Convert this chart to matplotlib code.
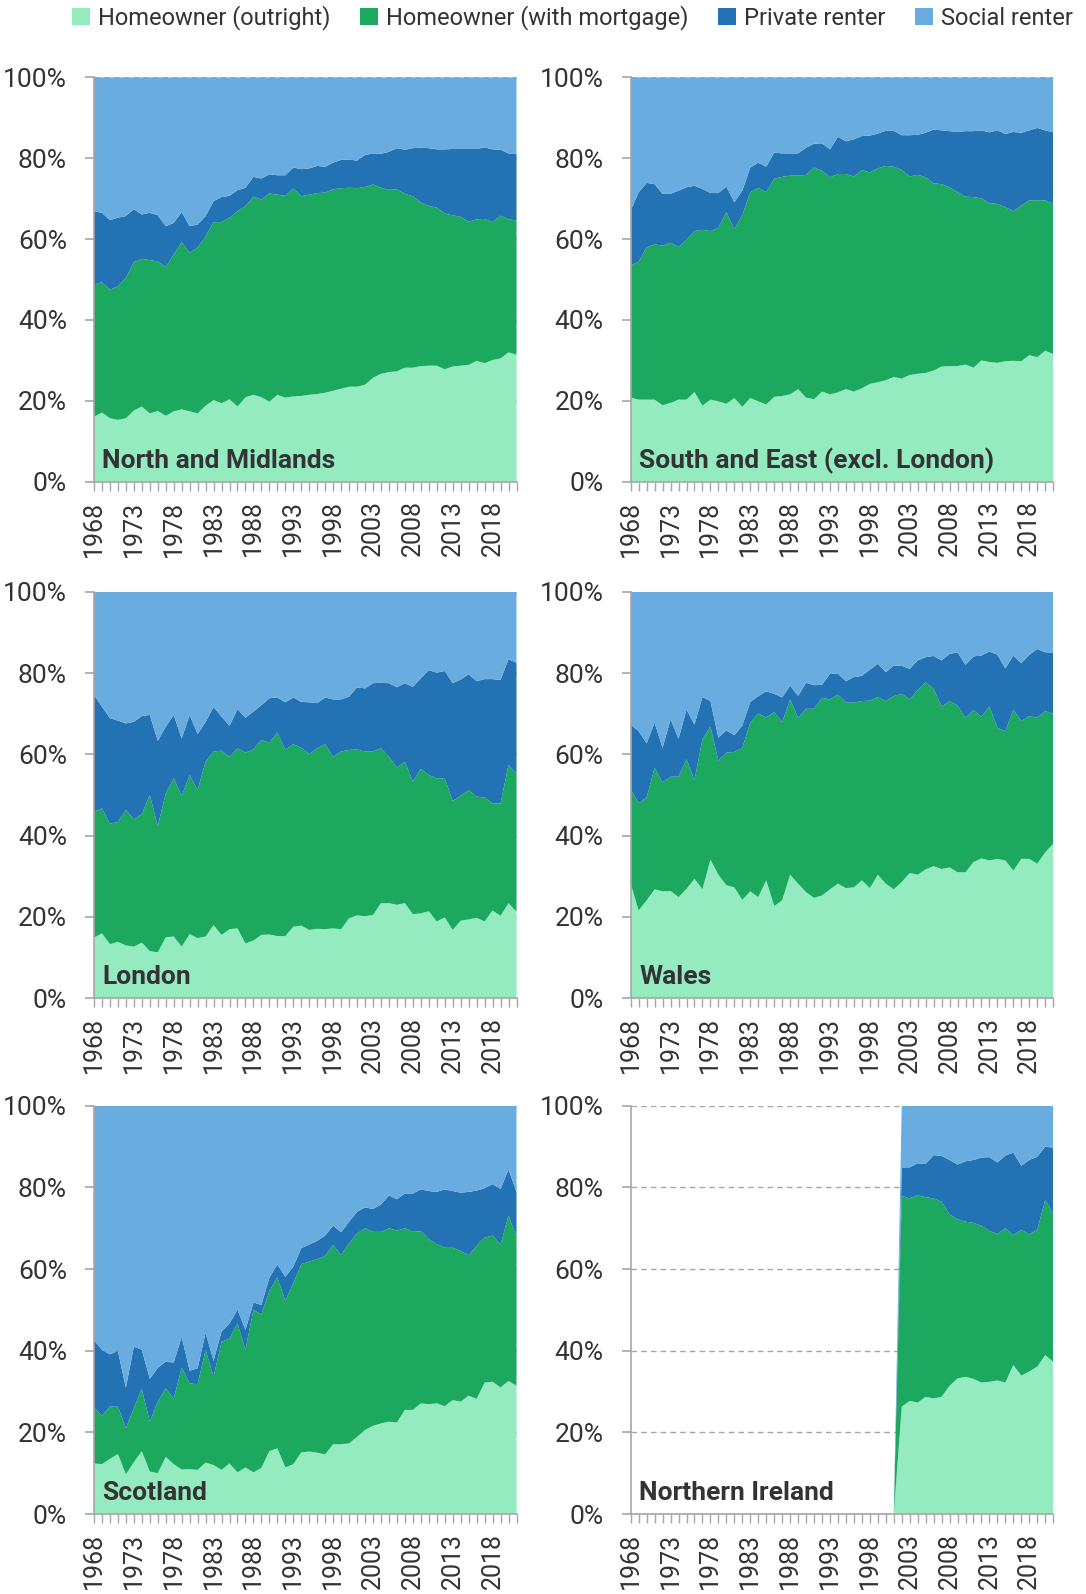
import matplotlib
matplotlib.use("Agg")
import matplotlib.pyplot as plt
import numpy as np
from matplotlib.patches import Patch
from matplotlib.ticker import MultipleLocator, FixedLocator

plt.rcParams["font.family"] = ["Roboto", "DejaVu Sans"]

# category axis
YEARS = np.arange(1968, 2022)
NI_YEARS = np.arange(2001, 2022)

SERIES = ["Homeowner (outright)", "Homeowner (with mortgage)",
          "Private renter", "Social renter"]
COLORS = ["#94ebc0", "#1ca85e", "#2372b4", "#69ace0"]

# cumulative shares (%):
#   *_OUTRIGHT  = outright owners
#   *_OWNED     = all homeowners (outright + mortgage)
#   *_NONSOCIAL = homeowners + private renters (rest is social renters)
NM_OUTRIGHT = [16.1, 17.1, 15.7, 15.3, 15.7, 17.6, 18.6, 16.9, 17.5, 16.3,
               17.4, 17.9, 17.4, 16.9, 18.8, 20.2, 19.4, 20.4, 18.6, 20.9,
               21.5, 20.9, 19.8, 21.5, 20.8, 21.1, 21.2, 21.5, 21.7, 22.0,
               22.5, 23.0, 23.5, 23.5, 24.0, 25.7, 26.7, 27.1, 27.3, 28.2,
               28.2, 28.6, 28.7, 28.7, 27.8, 28.5, 28.7, 28.9, 29.9, 29.3,
               30.1, 30.5, 32.0, 31.4]
NM_OWNED = [48.8, 49.3, 47.5, 48.3, 50.4, 54.3, 55.1, 54.8, 54.5, 53.1,
            56.2, 59.3, 56.6, 57.9, 60.7, 64.2, 64.2, 65.3, 66.9, 68.2,
            70.5, 69.8, 71.3, 71.0, 70.7, 72.5, 70.6, 71.0, 71.4, 71.5,
            72.3, 72.6, 72.7, 72.6, 72.9, 73.5, 72.7, 72.2, 72.3, 71.2,
            70.6, 69.1, 68.2, 67.8, 66.3, 65.9, 65.5, 64.3, 64.9, 65.0,
            64.2, 65.8, 64.9, 64.6]
NM_NONSOCIAL = [66.9, 66.5, 64.7, 65.3, 65.7, 67.4, 66.1, 66.5, 65.9, 63.2,
                64.0, 66.7, 63.2, 63.6, 65.7, 69.4, 70.4, 70.7, 72.1, 72.7,
                75.4, 75.0, 76.0, 75.8, 75.8, 77.7, 77.3, 77.5, 78.1, 77.9,
                78.9, 79.6, 79.7, 79.4, 80.8, 81.2, 81.1, 81.6, 82.5, 82.1,
                82.5, 82.6, 82.5, 82.2, 82.2, 82.3, 82.3, 82.3, 82.3, 82.7,
                82.2, 82.1, 81.2, 81.1]

SE_OUTRIGHT = [20.8, 20.3, 20.3, 20.3, 18.9, 19.5, 20.3, 20.3, 22.2, 18.8,
               20.3, 19.9, 19.3, 20.7, 18.5, 20.7, 19.9, 19.1, 21.0, 21.2,
               21.6, 22.9, 20.8, 20.4, 22.3, 21.6, 22.1, 22.9, 22.3, 23.1,
               24.2, 24.6, 25.1, 25.9, 25.5, 26.4, 26.7, 26.9, 27.5, 28.5,
               28.6, 28.6, 29.0, 28.2, 30.0, 29.6, 29.4, 29.8, 29.9, 29.8,
               31.3, 30.8, 32.4, 31.6]
SE_OWNED = [53.5, 54.4, 58.0, 58.7, 58.4, 59.1, 58.0, 59.8, 62.0, 62.3,
            62.0, 62.8, 66.7, 62.4, 65.9, 71.6, 72.7, 71.6, 74.9, 75.4,
            75.7, 75.7, 75.9, 77.7, 76.9, 75.3, 76.1, 76.1, 75.5, 77.1,
            76.5, 77.5, 78.1, 77.9, 77.1, 75.5, 75.9, 75.3, 73.8, 73.6,
            72.8, 71.6, 70.5, 70.4, 70.1, 68.9, 68.7, 67.9, 66.9, 68.3,
            69.6, 69.6, 69.6, 68.7]
SE_NONSOCIAL = [67.1, 71.6, 73.9, 73.6, 71.2, 71.2, 72.0, 72.8, 73.2, 72.4,
                71.4, 71.4, 73.0, 69.1, 72.0, 77.7, 78.9, 77.9, 81.4, 81.2,
                81.2, 81.2, 82.6, 83.6, 83.7, 82.2, 85.3, 84.2, 84.7, 85.5,
                85.6, 86.1, 86.8, 86.8, 85.7, 85.7, 85.8, 86.3, 87.1, 86.9,
                86.7, 86.5, 86.7, 86.7, 86.9, 86.4, 86.9, 86.0, 86.5, 86.3,
                86.9, 87.5, 86.9, 86.4]

LON_OUTRIGHT = [14.9, 16.0, 13.3, 13.9, 13.0, 12.7, 13.7, 11.6, 11.3, 15.0,
                15.2, 12.7, 15.8, 14.8, 15.2, 18.0, 15.6, 17.0, 17.2, 13.5,
                14.2, 15.6, 15.7, 15.3, 15.3, 17.6, 17.9, 16.8, 17.1, 17.0,
                17.2, 17.0, 19.7, 20.4, 20.2, 20.5, 23.4, 23.4, 23.0, 23.4,
                20.7, 20.9, 21.4, 18.9, 19.9, 16.8, 19.1, 19.4, 19.8, 18.9,
                21.6, 20.3, 23.4, 21.3]
LON_OWNED = [45.9, 46.7, 42.9, 43.4, 46.3, 44.0, 45.3, 50.0, 42.4, 50.4,
             54.1, 49.8, 54.9, 51.2, 58.2, 60.7, 60.9, 59.4, 61.5, 60.4,
             61.2, 63.5, 62.9, 65.3, 61.1, 62.5, 61.6, 60.1, 61.5, 62.5,
             59.4, 60.7, 61.1, 61.2, 60.7, 60.7, 61.5, 59.4, 56.8, 58.2,
             53.3, 56.4, 54.9, 54.1, 54.1, 48.5, 49.8, 51.2, 49.6, 49.4,
             47.9, 47.9, 57.4, 55.3]
LON_NONSOCIAL = [74.6, 71.7, 68.9, 68.3, 67.6, 68.0, 69.4, 69.7, 63.3, 66.8,
                 69.7, 63.9, 69.7, 65.0, 68.0, 71.6, 69.3, 67.0, 71.1, 69.0,
                 70.5, 72.1, 73.8, 74.0, 72.8, 74.0, 72.9, 72.8, 72.6, 74.0,
                 73.5, 73.5, 74.2, 76.5, 76.2, 77.5, 77.6, 77.5, 76.5, 77.5,
                 76.6, 78.7, 80.7, 80.1, 80.5, 77.5, 78.4, 79.7, 78.0, 78.5,
                 78.5, 78.3, 83.4, 82.5]

WAL_OUTRIGHT = [28.2, 21.6, 24.1, 26.8, 26.3, 26.4, 24.9, 26.9, 29.4, 26.8,
                34.1, 30.4, 27.8, 27.3, 24.2, 26.3, 24.9, 29.0, 22.7, 24.1,
                30.4, 28.2, 26.1, 24.7, 25.3, 26.8, 28.2, 27.1, 27.3, 29.0,
                27.1, 30.4, 28.2, 26.8, 28.6, 30.8, 30.4, 31.7, 32.5, 31.8,
                32.2, 31.0, 31.0, 33.5, 34.4, 33.9, 34.3, 33.9, 31.4, 34.3,
                34.3, 33.1, 35.9, 38.0]
WAL_OWNED = [51.4, 48.0, 49.4, 56.7, 53.1, 54.5, 54.5, 58.8, 53.7, 63.7,
             66.8, 58.4, 60.4, 60.6, 61.6, 67.8, 70.0, 69.1, 70.4, 67.9,
             73.5, 69.0, 71.2, 71.2, 73.9, 73.5, 74.7, 72.8, 72.7, 73.1,
             73.2, 74.1, 73.1, 74.3, 74.9, 73.5, 75.8, 77.7, 76.1, 71.8,
             73.1, 72.0, 69.0, 70.9, 69.2, 71.8, 66.5, 65.7, 71.0, 68.2,
             69.4, 69.0, 70.6, 70.0]
WAL_NONSOCIAL = [67.3, 65.7, 62.7, 67.8, 61.6, 68.6, 63.8, 71.0, 67.3, 74.1,
                 73.1, 64.1, 65.9, 64.7, 67.1, 72.9, 74.3, 75.5, 74.9, 74.0,
                 76.9, 74.4, 77.6, 77.0, 77.1, 79.8, 79.8, 78.0, 79.0, 79.3,
                 80.8, 82.3, 80.2, 81.8, 81.8, 81.0, 83.1, 83.9, 84.2, 83.1,
                 84.7, 85.1, 82.0, 84.1, 84.3, 85.3, 84.5, 81.1, 84.3, 82.4,
                 84.5, 85.9, 85.1, 85.0]

SCO_OUTRIGHT = [12.4, 12.2, 13.5, 14.7, 9.7, 12.7, 15.4, 10.4, 10.0, 14.0,
                12.2, 10.9, 11.0, 10.8, 12.6, 12.0, 10.8, 12.4, 10.2, 11.4,
                10.2, 11.3, 15.4, 16.1, 11.4, 12.2, 15.1, 15.3, 15.0, 14.6,
                17.1, 17.1, 17.3, 18.9, 20.6, 21.6, 22.2, 22.6, 22.4, 25.5,
                25.5, 27.1, 26.9, 27.1, 26.4, 27.9, 27.5, 29.0, 28.2, 32.2,
                32.4, 31.0, 32.6, 31.4]
SCO_OWNED = [25.9, 24.1, 26.3, 26.3, 21.0, 25.9, 30.6, 22.6, 27.5, 30.8,
             28.2, 35.8, 32.0, 31.8, 40.2, 33.6, 42.2, 43.0, 46.7, 40.2,
             50.0, 48.9, 54.6, 57.9, 52.2, 56.5, 61.2, 61.8, 62.4, 63.2,
             65.9, 63.4, 66.3, 68.7, 70.0, 69.1, 69.1, 70.0, 69.4, 70.0,
             69.1, 69.3, 67.3, 66.1, 65.2, 65.2, 64.4, 63.4, 65.7, 67.7,
             68.2, 66.0, 73.1, 67.9]
SCO_NONSOCIAL = [42.6, 40.2, 39.1, 39.9, 30.9, 41.0, 40.2, 33.1, 35.8, 37.3,
                 37.1, 43.4, 35.1, 35.7, 44.4, 37.5, 44.7, 46.7, 50.0, 45.1,
                 51.8, 51.2, 57.9, 61.1, 58.1, 60.6, 65.1, 66.0, 66.9, 68.2,
                 70.6, 69.0, 71.6, 74.0, 75.1, 74.7, 75.8, 78.0, 77.1, 78.5,
                 78.5, 79.5, 79.1, 78.9, 79.5, 79.1, 78.7, 78.9, 79.2, 79.8,
                 80.8, 79.6, 84.4, 78.8]

# Northern Ireland series only starts in 2002 (2001 drawn as zero)
NI_OUTRIGHT = [0, 26.3, 27.7, 27.3, 28.7, 28.3, 28.7, 31.4, 33.2, 33.6, 33.1,
               32.2, 32.4, 32.7, 32.2, 36.5, 33.9, 34.9, 36.1, 38.9, 37.3]
NI_OWNED = [0, 77.9, 77.3, 78.1, 77.6, 77.3, 76.5, 73.4, 72.2, 71.6, 71.3,
            70.6, 69.3, 68.6, 70.0, 68.3, 69.6, 68.5, 69.6, 76.9, 73.6]
NI_NONSOCIAL = [0, 84.9, 84.9, 85.9, 85.7, 87.9, 87.7, 86.7, 85.6, 86.4, 86.7,
                87.3, 87.4, 86.1, 87.8, 88.5, 85.3, 86.7, 87.5, 90.0, 89.7]

PANELS = [
    ("North and Midlands", YEARS, NM_OUTRIGHT, NM_OWNED, NM_NONSOCIAL),
    ("South and East (excl. London)", YEARS, SE_OUTRIGHT, SE_OWNED, SE_NONSOCIAL),
    ("London", YEARS, LON_OUTRIGHT, LON_OWNED, LON_NONSOCIAL),
    ("Wales", YEARS, WAL_OUTRIGHT, WAL_OWNED, WAL_NONSOCIAL),
    ("Scotland", YEARS, SCO_OUTRIGHT, SCO_OWNED, SCO_NONSOCIAL),
    ("Northern Ireland", NI_YEARS, NI_OUTRIGHT, NI_OWNED, NI_NONSOCIAL),
]

TEXT = "#333333"
AXIS = "#a6a6a6"
W, H = 1086, 1594
COL_X = [94, 630.7]
ROW_TOP = [77.4, 591.7, 1105.7]
ROW_BOTTOM = [481.7, 998.3, 1514.0]
PANEL_W = 422.5


def layers(outright, owned, nonsocial):
    outright = np.asarray(outright, float)
    owned = np.asarray(owned, float)
    nonsocial = np.asarray(nonsocial, float)
    social = np.where(nonsocial > 0, 100 - nonsocial, 0.0)
    return [outright, owned - outright, nonsocial - owned, social]


fig = plt.figure(figsize=(W / 100, H / 100), dpi=100)

for idx, (name, years, outright, owned, nonsocial) in enumerate(PANELS):
    row, col = divmod(idx, 2)
    left = COL_X[col] / W
    bottom = 1 - ROW_BOTTOM[row] / H
    height = (ROW_BOTTOM[row] - ROW_TOP[row]) / H
    ax = fig.add_axes([left, bottom, PANEL_W / W, height])

    ax.stackplot(years, layers(outright, owned, nonsocial), colors=COLORS,
                 linewidth=0, zorder=2)

    ax.set_xlim(1968, 2021)
    ax.set_ylim(0, 100)
    ax.set_axisbelow(True)
    ax.yaxis.grid(True, color=AXIS, linestyle=(0, (4, 3)), linewidth=1.0)

    ax.yaxis.set_major_locator(MultipleLocator(20))
    ax.set_yticks(range(0, 101, 20))
    ax.set_yticklabels([f"{v}%" for v in range(0, 101, 20)])
    ax.xaxis.set_major_locator(FixedLocator(YEARS[::5]))
    ax.xaxis.set_minor_locator(FixedLocator(YEARS))
    ax.set_xticklabels([str(y) for y in YEARS[::5]], rotation=90)

    for side in ("top", "right"):
        ax.spines[side].set_visible(False)
    for side in ("left", "bottom"):
        ax.spines[side].set_color(AXIS)
        ax.spines[side].set_linewidth(1.2)
        ax.spines[side].set_zorder(3)

    ax.tick_params(axis="y", length=6.5, width=1.2, color=AXIS, pad=13,
                   labelsize=19, labelcolor=TEXT)
    ax.tick_params(axis="x", which="both", length=6.5, width=1.0,
                   color=AXIS, pad=7, labelsize=18, labelcolor=TEXT)

    ax.text(0.02, 0.034, name, transform=ax.transAxes, fontsize=19,
            fontweight="bold", color=TEXT, va="baseline", ha="left", zorder=5)

handles = [Patch(facecolor=c, edgecolor="none") for c in COLORS]
fig.legend(handles, SERIES, loc="center", bbox_to_anchor=(0.527, 1 - 18 / H),
           ncol=4, frameon=False, fontsize=17, handlelength=0.75,
           handleheight=0.75, handletextpad=0.35, columnspacing=1.25,
           labelcolor=TEXT)

fig.savefig("out.png", dpi=100)
